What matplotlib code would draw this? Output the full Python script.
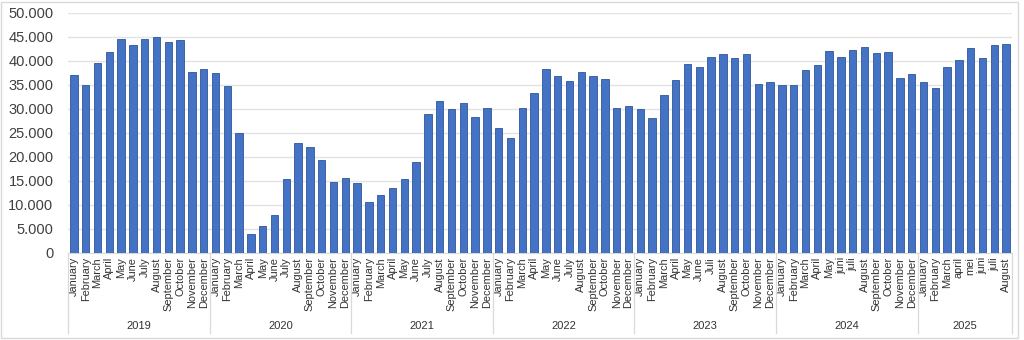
import numpy as np
import matplotlib
matplotlib.use("Agg")
import matplotlib.pyplot as plt
from matplotlib.ticker import FuncFormatter, MultipleLocator
from matplotlib.lines import Line2D
from matplotlib.patches import Rectangle

plt.rcParams['font.family'] = ['Liberation Sans', 'DejaVu Sans']

years = ['2019', '2020', '2021', '2022', '2023', '2024', '2025']

months_en = ['January', 'February', 'March', 'April', 'May', 'June', 'July',
             'August', 'September', 'October', 'November', 'December']
months_2023 = ['January', 'February', 'March', 'April', 'May', 'June', 'Juli',
               'August', 'September', 'October', 'November', 'December']
months_2024 = ['January', 'February', 'March', 'April', 'May', 'juni', 'juli',
               'August', 'September', 'October', 'November', 'December']
months_2025 = ['January', 'February', 'March', 'april', 'mei', 'juni', 'juli', 'August']

month_labels = [months_en, months_en, months_en, months_en, months_2023, months_2024, months_2025]

# monthly totals per year
v2019 = [37000, 35050, 39650, 41800, 44500, 43250, 44550, 44900, 44000, 44400, 37700, 38250]
v2020 = [37400, 34850, 25000, 4050, 5700, 8000, 15500, 23000, 22000, 19450, 14750, 15700]
v2021 = [14600, 10550, 12100, 13600, 15400, 19050, 29050, 31750, 29950, 31200, 28250, 30150]
v2022 = [26100, 24050, 30300, 33250, 38350, 36800, 35900, 37650, 36900, 36250, 30200, 30550]
v2023 = [29900, 28200, 33000, 36100, 39450, 38800, 40850, 41550, 40550, 41450, 35250, 35650]
v2024 = [34950, 34950, 38150, 39100, 42000, 40750, 42350, 43000, 41700, 41950, 36550, 37350]
v2025 = [35700, 34300, 38800, 40300, 42650, 40650, 43250, 43600]

values = v2019 + v2020 + v2021 + v2022 + v2023 + v2024 + v2025
labels = [m for ms in month_labels for m in ms]
counts = [len(ms) for ms in month_labels]

fig = plt.figure(figsize=(10.24, 3.4), dpi=100)
ax = fig.add_axes([68 / 1024, 87 / 340, 944 / 1024, 240 / 340])

x = np.arange(len(values))
ax.bar(x, values, width=0.63, color='#4472C4', edgecolor='#2F5597', linewidth=0.6, zorder=3)

ax.set_xlim(-0.5, len(values) - 0.5)
ax.set_ylim(0, 50000)
ax.yaxis.set_major_locator(MultipleLocator(5000))
ax.yaxis.set_major_formatter(FuncFormatter(lambda v, p: f"{int(v):,}".replace(",", ".")))
ax.grid(axis='y', color='#E3E3E3', linewidth=1, zorder=0)

for s in ['top', 'right', 'left']:
    ax.spines[s].set_visible(False)
ax.spines['bottom'].set_color('#D9D9D9')

ax.set_xticks(x)
ax.set_xticklabels(labels, rotation=90, fontsize=7.9, color='#333333')
ax.tick_params(axis='x', length=0, pad=3)
ax.tick_params(axis='y', length=0, pad=10.5, labelsize=10.5, labelcolor='#404040')

# year groups below the month labels
trans = ax.get_xaxis_transform()
start = -0.5
for yr, n in zip(years, counts):
    ax.text(start + n / 2, -0.305, yr, transform=trans, ha='center', va='center',
            fontsize=8, color='#333333')
    ax.add_line(Line2D([start, start], [0, -0.335], transform=trans, color='#D9D9D9',
                       linewidth=0.9, clip_on=False))
    start += n
ax.add_line(Line2D([start, start], [0, -0.335], transform=trans, color='#D9D9D9',
                   linewidth=0.9, clip_on=False))

fig.patches.append(Rectangle((1 / 1024, 2 / 340), 1017 / 1024, 336 / 340, transform=fig.transFigure,
                             fill=False, edgecolor='#D9D9D9', linewidth=1))

fig.savefig('out.png', dpi=100, facecolor='white')
